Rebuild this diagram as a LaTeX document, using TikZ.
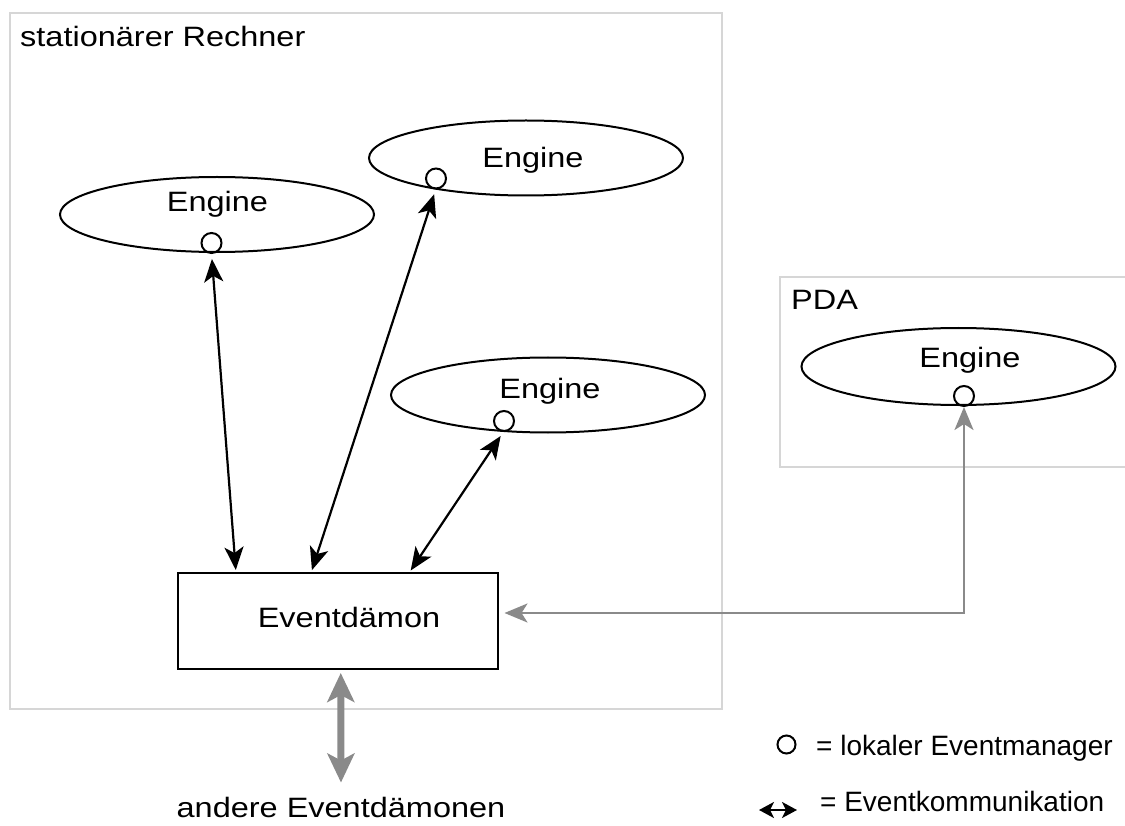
\documentclass[tikz,border=0pt]{standalone}
\usepackage{fontspec}
\setmainfont{Liberation Sans}
\newfontfamily\widefont{Liberation Sans}[FakeStretch=1.16]
\usetikzlibrary{arrows.meta,shapes.geometric,calc}
\definecolor{boxgray}{HTML}{D6D6D6}
\definecolor{arrgray}{HTML}{8A8A8A}
\begin{document}
\begin{tikzpicture}[x=1pt,y=-1pt,
  frame/.style={draw=boxgray,line width=2.4pt},
  engine/.style={draw,ellipse,line width=2pt,minimum width=314pt,minimum height=75pt,inner sep=0pt,outer sep=0pt},
  lem/.style={draw,circle,line width=2pt,minimum size=20pt,inner sep=0pt,outer sep=0pt},
  lbl/.style={font=\widefont\fontsize{28}{34}\selectfont,anchor=base,inner sep=0pt},
  leg/.style={font=\fontsize{28}{34}\selectfont,anchor=base west,inner sep=0pt},
  daemon/.style={draw,line width=2pt,minimum width=319.5pt,minimum height=96pt,inner sep=0pt,outer sep=0pt},
  blk/.style={line width=2.2pt,{Stealth[length=23pt,width=19pt,inset=6pt]}-{Stealth[length=23pt,width=19pt,inset=6pt]}},
  gry/.style={draw=arrgray,line width=2.4pt,{Stealth[length=23pt,width=19pt,inset=6pt]}-{Stealth[length=23pt,width=19pt,inset=6pt]}},
  thk/.style={draw=arrgray,line width=7pt,{Stealth[length=29pt,width=27pt,inset=7pt]}-{Stealth[length=29pt,width=27pt,inset=7pt]}},
  legarr/.style={line width=2.4pt,{Stealth[length=15pt,width=16pt,inset=4pt]}-{Stealth[length=15pt,width=16pt,inset=4pt]}}
]
\useasboundingbox (0,0) rectangle (1125,826);
% frames
\draw[frame] (10,13) rectangle (722,709);
\node[lbl,anchor=base west] (tRech) at (20,46.5) {stationärer Rechner};
\draw[frame] (1125,277) -- (780,277) -- (780,467) -- (1125,467);
\node[lbl,anchor=base west] (tPDA) at (791,310) {PDA};
% engines
\node[engine] (e1) at (217,214.5) {};
\node[lbl] (t1) at (217.5,212) {Engine};
\node[lem] (c1) at (211.5,243) {};
\node[engine] (e2) at (526,158) {};
\node[lbl] (t2) at (533,168) {Engine};
\node[lem] (c2) at (436,178.5) {};
\node[engine] (e3) at (548,395) {};
\node[lbl] (t3) at (550,399) {Engine};
\node[lem] (c3) at (504,421) {};
\node[engine,minimum height=77pt] (e4) at (958.5,366.5) {};
\node[lbl] (t4) at (970,367) {Engine};
\node[lem] (c4) at (964,396) {};
% daemon
\node[daemon] (ed) at (337.75,621) {};
\node[lbl] (ted) at (349,627) {Eventdämon};
% connectors
\draw[blk,shorten <=6pt,shorten >=3pt] (c1.south) -- ([xshift=58pt]ed.north west);
\draw[blk,shorten <=6pt,shorten >=3pt] (c2.south) -- ([xshift=133pt]ed.north west);
\draw[blk,shorten <=6pt,shorten >=3pt] (c3.south) -- ([xshift=231pt]ed.north west);
\draw[gry,shorten <=1pt,shorten >=7pt] (c4.south) |- ([yshift=8pt]ed.east);
% other daemons
\node[lbl] (tand) at (341,817) {andere Eventdämonen};
\draw[thk,shorten <=4pt,shorten >=14pt] ([xshift=3pt]ed.south) -- (tand.north);
% legend
\node[lem,minimum size=18pt] (lc) at (786.5,744.5) {};
\node[leg] (l1) at (816,755) {= lokaler Eventmanager};
\coordinate (la1) at (759,810);
\coordinate (la2) at (797,810);
\draw[legarr] (la1) -- (la2);
\node[leg] (l2) at (820,811.5) {= Eventkommunikation};
\end{tikzpicture}
\end{document}
